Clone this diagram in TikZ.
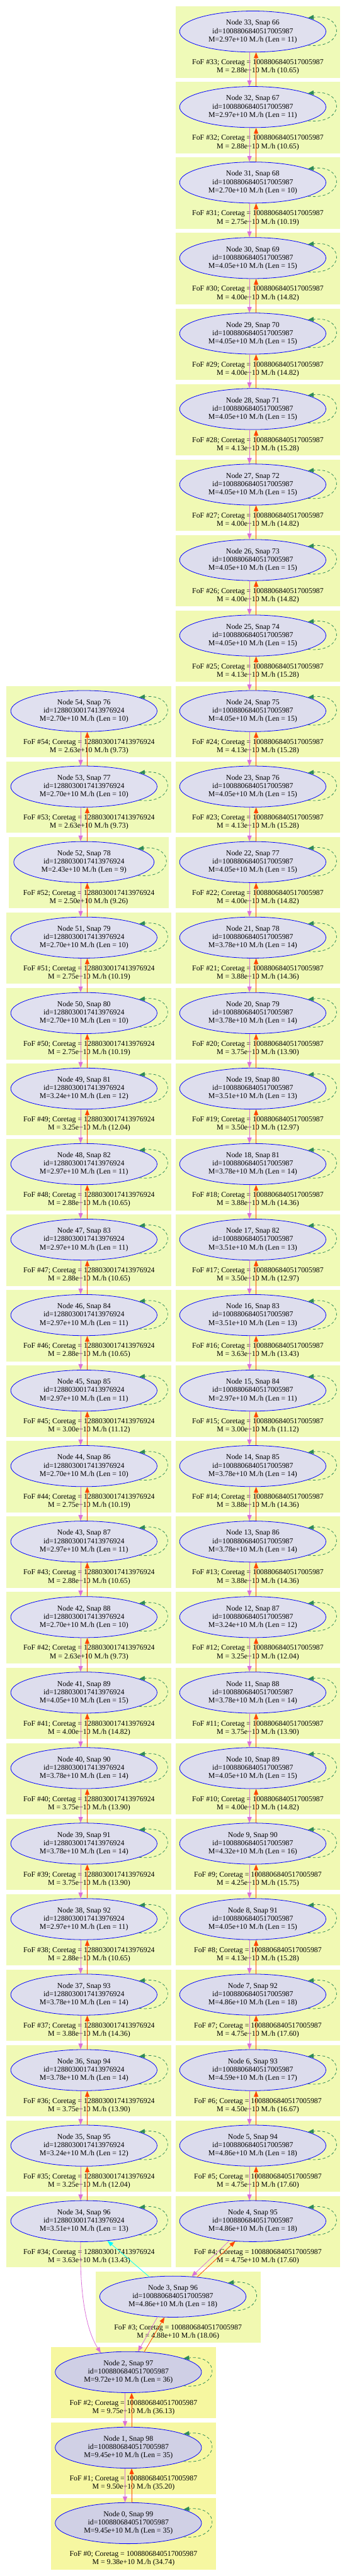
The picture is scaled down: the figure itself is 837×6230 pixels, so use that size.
\documentclass[tikz,border=0pt]{standalone}
\usepackage{fontspec}
\setmainfont{Liberation Serif}
\usetikzlibrary{shapes.geometric,arrows.meta}
\definecolor{boxlo}{HTML}{EFFAB9}
\definecolor{boxhi}{HTML}{F6F7A0}
\definecolor{elo}{HTML}{E1E1EF}
\definecolor{ehi}{HTML}{CFCFE5}
\definecolor{orchidc}{HTML}{DA70D6}
\definecolor{oredc}{HTML}{FF4500}
\definecolor{sgreen}{HTML}{2E8B57}
\definecolor{cyanc}{HTML}{00FFFF}
\tikzset{
  halofont/.style={font=\fontsize{13.5pt}{15pt}\selectfont},
  halonode/.style={ellipse, draw=blue, line width=0.9pt, inner sep=0pt,
    minimum height=74.5pt, align=center, halofont},
  halolab/.style={inner sep=0pt, align=center, halofont},
  tipx/.style={-{Triangle[length=10.5pt,width=8pt]}},
  vioedge/.style={draw=orchidc, line width=0.9pt, tipx},
  redge/.style={draw=oredc, line width=0.9pt, tipx},
  cyedge/.style={draw=cyanc, line width=0.9pt, tipx},
  selfloop/.style={draw=sgreen, line width=0.9pt, dash pattern=on 5pt off 4pt,
    -{Triangle[length=10.5pt,width=8pt,fill=sgreen]}},
}
\newcommand\drawhalo[9]{%
  \pgfmathsetmacro\tp{15.7+#2*182.6}%
  \pgfmathsetmacro\ecy{\tp+60.6}%
  \ifnum#3=52 \def\ea{169.5}\def\bl{180.7}\def\br{204.3}\else\def\ea{176.7}\def\bl{186.8}\def\br{211.5}\fi
  \pgfmathtruncatemacro\pe{max(0,min(100,(#6-2.4)/7.32*100))}%
  \pgfmathtruncatemacro\pb{max(0,min(100,(#8-2.4)/7.35*100))}%
  \pgfmathsetmacro\ew{2*\ea*0.75}%
  \fill[boxhi!\pb!boxlo] (#1-\bl,\tp) rectangle (#1+\br,\tp+172.6);
  \node[halolab] (f#3) at (#1-\bl/2+\br/2,\tp+146.6)
    {FoF \##3; Coretag = #5\\M = #8e+10 M./h (#9)};
  \node[halonode, fill=ehi!\pe!elo, minimum width=\ew pt] (n#3) at (#1,\ecy)
    {Node #3, Snap #4\\id=#5\\M=#6e+10 M./h (Len = #7)};
  \draw[selfloop] (n#3.-14) .. controls +(90,10) and +(90,-10) .. (n#3.14);
}
\begin{document}
\begin{tikzpicture}[x=0.75pt,y=-0.75pt]
\useasboundingbox (0,0) rectangle (837,6230);
% right column
\foreach \k/\n/\s/\m/\l/\fm/\fp in {
 0/33/66/2.97/11/2.88/10.65, 1/32/67/2.97/11/2.88/10.65, 2/31/68/2.70/10/2.75/10.19,
 3/30/69/4.05/15/4.00/14.82, 4/29/70/4.05/15/4.00/14.82, 5/28/71/4.05/15/4.13/15.28,
 6/27/72/4.05/15/4.00/14.82, 7/26/73/4.05/15/4.00/14.82, 8/25/74/4.05/15/4.13/15.28,
 9/24/75/4.05/15/4.13/15.28, 10/23/76/4.05/15/4.13/15.28, 11/22/77/4.05/15/4.00/14.82,
 12/21/78/3.78/14/3.88/14.36, 13/20/79/3.78/14/3.75/13.90, 14/19/80/3.51/13/3.50/12.97,
 15/18/81/3.78/14/3.88/14.36, 16/17/82/3.51/13/3.50/12.97, 17/16/83/3.51/13/3.63/13.43,
 18/15/84/2.97/11/3.00/11.12, 19/14/85/3.78/14/3.88/14.36, 20/13/86/3.78/14/3.88/14.36,
 21/12/87/3.24/12/3.25/12.04, 22/11/88/3.78/14/3.75/13.90, 23/10/89/4.05/15/4.00/14.82,
 24/9/90/4.32/16/4.25/15.75, 25/8/91/4.05/15/4.13/15.28, 26/7/92/4.86/18/4.75/17.60,
 27/6/93/4.59/17/4.50/16.67, 28/5/94/4.86/18/4.75/17.60, 29/4/95/4.86/18/4.75/17.60}
 {\drawhalo{610.5}{\k}{\n}{\s}{1008806840517005987}{\m}{\l}{\fm}{\fp}}
% left column
\foreach \k/\n/\s/\m/\l/\fm/\fp in {
 9/54/76/2.70/10/2.63/9.73, 10/53/77/2.70/10/2.63/9.73, 11/52/78/2.43/9/2.50/9.26,
 12/51/79/2.70/10/2.75/10.19, 13/50/80/2.70/10/2.75/10.19, 14/49/81/3.24/12/3.25/12.04,
 15/48/82/2.97/11/2.88/10.65, 16/47/83/2.97/11/2.88/10.65, 17/46/84/2.97/11/2.88/10.65,
 18/45/85/2.97/11/3.00/11.12, 19/44/86/2.70/10/2.75/10.19, 20/43/87/2.97/11/2.88/10.65,
 21/42/88/2.70/10/2.63/9.73, 22/41/89/4.05/15/4.00/14.82, 23/40/90/3.78/14/3.75/13.90,
 24/39/91/3.78/14/3.75/13.90, 25/38/92/2.97/11/2.88/10.65, 26/37/93/3.78/14/3.88/14.36,
 27/36/94/3.78/14/3.75/13.90, 28/35/95/3.24/12/3.25/12.04, 29/34/96/3.51/13/3.63/13.43}
 {\drawhalo{202.7}{\k}{\n}{\s}{1288030017413976924}{\m}{\l}{\fm}{\fp}}
% bottom chain
\drawhalo{417.5}{30}{3}{96}{1008806840517005987}{4.86}{18}{4.88}{18.06}
\drawhalo{310}{31}{2}{97}{1008806840517005987}{9.72}{36}{9.75}{36.13}
\drawhalo{310}{32}{1}{98}{1008806840517005987}{9.45}{35}{9.50}{35.20}
\drawhalo{310}{33}{0}{99}{1008806840517005987}{9.45}{35}{9.38}{34.74}
% column edges
\foreach \a in {33,...,5,54,53,...,35,2,1}{
  \pgfmathtruncatemacro\b{\a-1}
  \draw[vioedge] ([xshift=-6pt]n\a.south) -- ([xshift=-6pt]n\b.north);
  \draw[redge] ([xshift=6pt]n\b.north) -- ([xshift=6pt]n\a.south);
}
% merger edges
\draw[vioedge] (n4.220) -- (n3.47);
\draw[redge] (n3.39) -- (n4.229);
\draw[cyedge] (n3.140) -- (n34.320);
\draw[vioedge] ([xshift=-6pt]n34.south) .. controls +(-3,138) and +(-32,-50) .. (n2.145);
\draw[vioedge] (n3.233) -- (n2.65);
\draw[redge] (n2.52) -- (n3.248);
\end{tikzpicture}
\end{document}
